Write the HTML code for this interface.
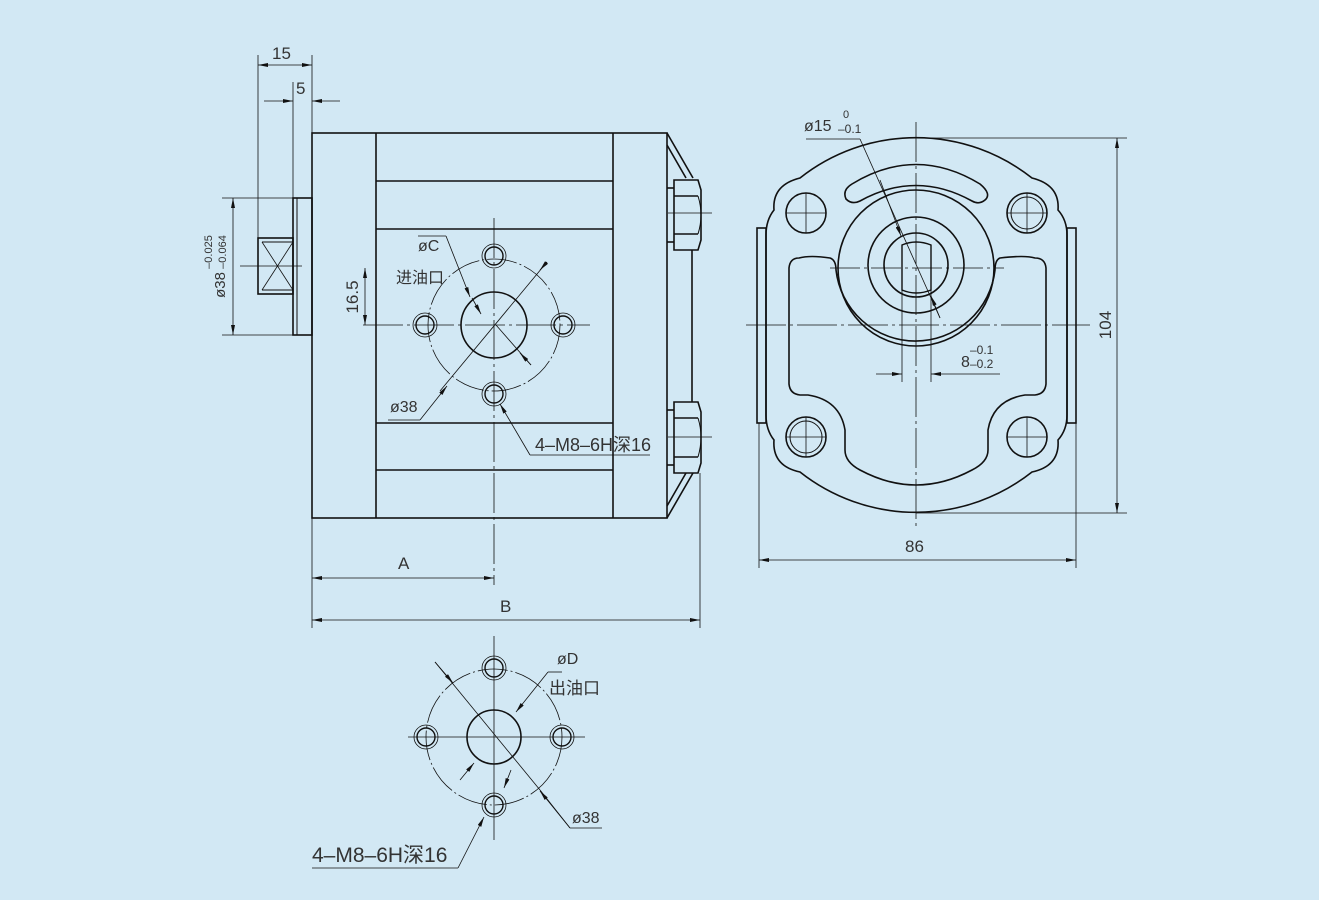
<!DOCTYPE html>
<html><head><meta charset="utf-8"><style>
html,body{margin:0;padding:0;background:#d2e8f4;}
svg{display:block}
text{font-family:"Liberation Sans","Noto Sans CJK SC",sans-serif;fill:#333;}
</style></head><body>
<svg width="1319" height="900" viewBox="0 0 1319 900" xmlns="http://www.w3.org/2000/svg">
<defs>
<marker id="ar" viewBox="0 0 10 4" refX="10" refY="2" markerWidth="10" markerHeight="4" orient="auto-start-reverse" markerUnits="userSpaceOnUse"><path d="M0,0L10,2L0,4z" fill="#111"/></marker>
</defs>
<rect width="1319" height="900" fill="#d2e8f4"/>
<g stroke="#111" fill="none" stroke-width="1.6">
<rect x="312" y="133" width="355" height="385"/>
<line x1="376" y1="133" x2="376" y2="518"/>
<line x1="613" y1="133" x2="613" y2="518"/>
<line x1="376" y1="181" x2="613" y2="181"/>
<line x1="376" y1="229" x2="613" y2="229"/>
<line x1="376" y1="423" x2="613" y2="423"/>
<line x1="376" y1="470" x2="613" y2="470"/>
<rect x="293" y="198" width="19" height="137"/>
<line x1="297" y1="198" x2="297" y2="335" stroke-width="1"/>
<rect x="258" y="238" width="35" height="56"/>
<line x1="262" y1="242" x2="293" y2="242" stroke-width="1"/>
<line x1="262" y1="290" x2="293" y2="290" stroke-width="1"/>
<line x1="262" y1="242" x2="293" y2="290" stroke-width="0.8"/>
<line x1="262" y1="290" x2="293" y2="242" stroke-width="0.8"/>
<line x1="667" y1="133" x2="693" y2="178"/>
<line x1="667" y1="145" x2="686" y2="178"/>
<line x1="667" y1="518" x2="693" y2="473"/>
<line x1="667" y1="506" x2="686" y2="473"/>
<line x1="692" y1="250" x2="692" y2="402"/>
<path d="M674,180H698L701,190V240L698,250H674Z"/>
<line x1="674" y1="196" x2="698" y2="196"/><line x1="674" y1="234" x2="698" y2="234"/>
<path d="M698,196Q704,215 698,234" stroke-width="1"/>
<path d="M674,402H698L701,412V463L698,473H674Z"/>
<line x1="674" y1="418" x2="698" y2="418"/><line x1="674" y1="457" x2="698" y2="457"/>
<path d="M698,418Q704,437 698,457" stroke-width="1"/>
<line x1="667" y1="188" x2="674" y2="188"/><line x1="667" y1="242" x2="674" y2="242"/>
<line x1="667" y1="410" x2="674" y2="410"/><line x1="667" y1="465" x2="674" y2="465"/>
<circle cx="494" cy="325" r="33"/>
<circle cx="494" cy="325" r="66" stroke-width="0.8" stroke-dasharray="30 3 2 3"/>
<g stroke-width="1.4">
<circle cx="494" cy="256" r="9"/><circle cx="425" cy="325" r="9"/><circle cx="563" cy="325" r="9"/><circle cx="494" cy="394" r="9"/>
</g>
<g stroke-width="0.8">
<circle cx="494" cy="256" r="12"/><circle cx="425" cy="325" r="12"/><circle cx="563" cy="325" r="12"/><circle cx="494" cy="394" r="12"/>
</g>
<circle cx="494" cy="737" r="27"/>
<circle cx="494" cy="737" r="68" stroke-width="0.8" stroke-dasharray="30 3 2 3"/>
<g stroke-width="1.4">
<circle cx="494" cy="668" r="9"/><circle cx="426" cy="737" r="9"/><circle cx="562" cy="737" r="9"/><circle cx="494" cy="805" r="9"/>
</g>
<g stroke-width="0.8">
<circle cx="494" cy="668" r="12"/><circle cx="426" cy="737" r="12"/><circle cx="562" cy="737" r="12"/><circle cx="494" cy="805" r="12"/>
</g>
<path d="M800,178 A187,187 0 0 1 1032,178 Q1060,185 1058,210 Q1067,220 1067,235 V415 Q1067,430 1058,440 Q1060,466 1032,472 A187,187 0 0 1 800,472 Q772,466 774,440 Q766,430 766,415 V235 Q766,220 774,210 Q772,185 800,178Z"/>
<rect x="757" y="228" width="9" height="195"/>
<rect x="1067" y="228" width="9" height="195"/>
<circle cx="806" cy="213" r="20"/><circle cx="1027" cy="213" r="20"/><circle cx="806" cy="437" r="20"/><circle cx="1027" cy="437" r="20"/>
<circle cx="1027" cy="213" r="16" stroke-width="1"/><circle cx="806" cy="437" r="16" stroke-width="1"/>
<circle cx="916" cy="268" r="78"/>
<circle cx="916" cy="265" r="48"/>
<circle cx="916" cy="265" r="32"/>
<path d="M902,245 Q916,239 931,245 V290 Q916,296 902,290Z" stroke-width="1.4"/>
<path d="M852,184 Q916,145 980,184 Q992,194 985,200 Q979,205 972,201 Q916,170 860,201 Q852,205 846,199 Q842,190 852,184Z"/>
<path d="M799,258 Q790,258 789,268 V384 Q790,394 800,395 H808 Q840,400 845,430 V450 Q845,462 860,470 Q916,500 972,470 Q988,462 988,450 V430 Q993,400 1025,395 H1035 Q1045,394 1046,384 V268 Q1045,258 1035,258 Q1025,255 1000,258 Q995,260 995,270 A80,80 0 0 1 836,270 Q836,260 830,258 Q810,255 799,258Z"/>
</g>
<g stroke="#111" stroke-width="0.8" fill="none">
<line x1="240" y1="266" x2="302" y2="266"/>
<line x1="363" y1="325" x2="590" y2="325" stroke-dasharray="40 4 3 4"/>
<line x1="494" y1="218" x2="494" y2="585" stroke-dasharray="40 4 3 4"/>
<line x1="668" y1="213" x2="712" y2="213"/><line x1="668" y1="437" x2="712" y2="437"/>
<line x1="408" y1="737" x2="585" y2="737"/><line x1="494" y1="636" x2="494" y2="840"/>
<line x1="916" y1="122" x2="916" y2="530" stroke-dasharray="40 4 3 4"/>
<line x1="746" y1="325" x2="1090" y2="325" stroke-dasharray="40 4 3 4"/>
<line x1="830" y1="268" x2="1004" y2="268" stroke-dasharray="30 4 3 4"/>
<line x1="786" y1="213" x2="826" y2="213"/><line x1="806" y1="193" x2="806" y2="233"/>
<line x1="1007" y1="213" x2="1047" y2="213"/><line x1="1027" y1="193" x2="1027" y2="233"/>
<line x1="786" y1="437" x2="826" y2="437"/><line x1="806" y1="417" x2="806" y2="457"/>
<line x1="1007" y1="437" x2="1047" y2="437"/><line x1="1027" y1="417" x2="1027" y2="457"/>
<line x1="902" y1="290" x2="902" y2="382"/><line x1="931" y1="290" x2="931" y2="382"/>
<line x1="258" y1="55" x2="258" y2="238"/><line x1="312" y1="55" x2="312" y2="133"/>
<line x1="258" y1="65" x2="312" y2="65" marker-start="url(#ar)" marker-end="url(#ar)"/>
<line x1="293" y1="82" x2="293" y2="198"/>
<line x1="264" y1="101" x2="293" y2="101" marker-end="url(#ar)"/>
<line x1="340" y1="101" x2="312" y2="101" marker-end="url(#ar)"/>
<line x1="222" y1="198" x2="293" y2="198"/><line x1="222" y1="335" x2="293" y2="335"/>
<line x1="233" y1="198" x2="233" y2="335" marker-start="url(#ar)" marker-end="url(#ar)"/>
<line x1="365" y1="268" x2="365" y2="325" marker-start="url(#ar)" marker-end="url(#ar)"/>
<line x1="312" y1="518" x2="312" y2="628"/><line x1="700" y1="473" x2="700" y2="628"/>
<line x1="312" y1="578" x2="494" y2="578" marker-start="url(#ar)" marker-end="url(#ar)"/>
<line x1="312" y1="620" x2="700" y2="620" marker-start="url(#ar)" marker-end="url(#ar)"/>
<line x1="418" y1="236" x2="446" y2="236"/><line x1="446" y1="236" x2="470" y2="297" marker-end="url(#ar)"/>
<line x1="440" y1="391" x2="547" y2="262"/>
<line x1="547" y1="262" x2="540" y2="270" marker-end="url(#ar)"/>
<line x1="388" y1="420" x2="420" y2="420"/><line x1="420" y1="420" x2="447" y2="386" marker-end="url(#ar)"/>
<line x1="496" y1="325" x2="531" y2="365"/><line x1="531" y1="365" x2="520" y2="353" marker-end="url(#ar)"/>
<line x1="650" y1="455" x2="530" y2="455"/><line x1="530" y1="455" x2="500" y2="404" marker-end="url(#ar)"/>
<line x1="472" y1="298" x2="481" y2="314" marker-end="url(#ar)"/>
<line x1="435" y1="662" x2="540" y2="790"/><line x1="435" y1="662" x2="453" y2="683" marker-end="url(#ar)"/>
<line x1="540" y1="790" x2="570" y2="828"/><line x1="570" y1="828" x2="602" y2="828"/>
<line x1="570" y1="828" x2="540" y2="791" marker-end="url(#ar)"/>
<line x1="548" y1="672" x2="516" y2="712" marker-end="url(#ar)"/>
<line x1="548" y1="672" x2="562" y2="672"/>
<line x1="460" y1="780" x2="474" y2="763" marker-end="url(#ar)"/>
<line x1="511" y1="770" x2="504" y2="788" marker-end="url(#ar)"/>
<line x1="312" y1="868" x2="458" y2="868"/><line x1="458" y1="868" x2="484" y2="817" marker-end="url(#ar)"/>
<line x1="916" y1="138" x2="1127" y2="138"/><line x1="916" y1="513" x2="1127" y2="513"/>
<line x1="1117" y1="138" x2="1117" y2="513" marker-start="url(#ar)" marker-end="url(#ar)"/>
<line x1="759" y1="423" x2="759" y2="568"/><line x1="1076" y1="423" x2="1076" y2="568"/>
<line x1="759" y1="560" x2="1076" y2="560" marker-start="url(#ar)" marker-end="url(#ar)"/>
<line x1="876" y1="374" x2="902" y2="374" marker-end="url(#ar)"/>
<line x1="1000" y1="374" x2="931" y2="374" marker-end="url(#ar)"/>
<line x1="806" y1="139" x2="860" y2="139"/><line x1="860" y1="139" x2="940" y2="318"/>
<line x1="880" y1="180" x2="901" y2="236" marker-end="url(#ar)"/>
<line x1="940" y1="318" x2="931" y2="296" marker-end="url(#ar)"/>
</g>
<g font-size="17">
<text x="272" y="59">15</text>
<text x="296" y="94">5</text>
<text x="398" y="569">A</text>
<text x="500" y="612">B</text>
<text x="418" y="251" font-size="16">øC</text>
<text x="396" y="283" font-size="16">进油口</text>
<text x="390" y="412" font-size="16">ø38</text>
<text x="535" y="451" font-size="18">4–M8–6H深16</text>
<text x="557" y="664" font-size="16">øD</text>
<text x="549" y="694" font-size="17">出油口</text>
<text x="572" y="823" font-size="16">ø38</text>
<text x="312" y="862" font-size="21">4–M8–6H深16</text>
<text x="905" y="552">86</text>
<text x="804" y="131" font-size="16">ø15</text>
<text x="843" y="118" font-size="11">0</text>
<text x="838" y="133" font-size="12">–0.1</text>
<text x="961" y="367" font-size="16">8</text>
<text x="970" y="354" font-size="12">–0.1</text>
<text x="970" y="368" font-size="12">–0.2</text>
<text transform="translate(1111,325) rotate(-90)" text-anchor="middle">104</text>
<text transform="translate(358,297) rotate(-90)" text-anchor="middle">16.5</text>
<text transform="translate(225,285) rotate(-90)" text-anchor="middle" font-size="15">ø38</text>
<text transform="translate(212,252) rotate(-90)" text-anchor="middle" font-size="11">–0.025</text>
<text transform="translate(226,252) rotate(-90)" text-anchor="middle" font-size="11">–0.064</text>
</g>
</svg>
</body></html>
